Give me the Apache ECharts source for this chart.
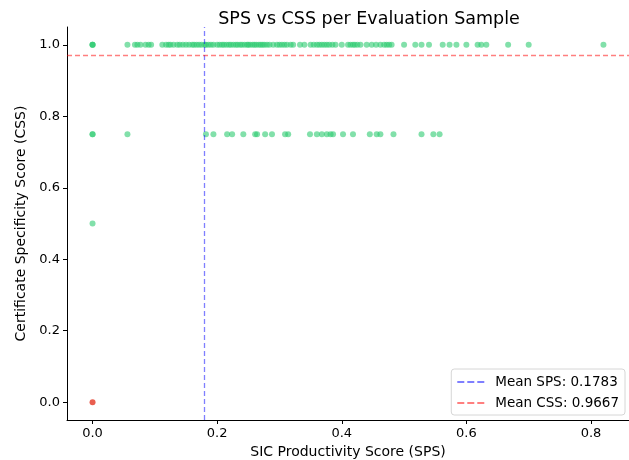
<!DOCTYPE html>
<html>
<head>
    <meta charset="UTF-8">
    <title>SPS vs CSS</title>
    <style type="text/css">
        *{ margin: 0; padding: 0; }
        #main{ width: 629px; height: 460px; background: #fff; }
    </style>
    <script src="https://cdn.jsdelivr.net/npm/echarts@6/dist/echarts.min.js"></script>
</head>
<body>
<div id="main"></div>
<script type="text/javascript">
    // SPS values of samples whose CSS is 1.0
    var spsAtCss100 = [0, 0, 0, 0.056, 0.068, 0.072, 0.077, 0.085, 0.09, 0.094, 0.112, 0.118, 0.122, 0.125,
        0.13, 0.136, 0.14, 0.145, 0.15, 0.155, 0.16, 0.163, 0.167, 0.171, 0.175, 0.18, 0.182, 0.186, 0.19,
        0.194, 0.2, 0.204, 0.208, 0.211, 0.215, 0.219, 0.222, 0.226, 0.23, 0.233, 0.237, 0.24, 0.244, 0.248,
        0.25, 0.253, 0.257, 0.26, 0.263, 0.267, 0.27, 0.273, 0.276, 0.28, 0.284, 0.29, 0.296, 0.3, 0.304,
        0.308, 0.312, 0.318, 0.322, 0.333, 0.34, 0.35, 0.355, 0.36, 0.364, 0.368, 0.372, 0.376, 0.38, 0.385,
        0.39, 0.4, 0.41, 0.414, 0.418, 0.421, 0.425, 0.43, 0.44, 0.448, 0.455, 0.462, 0.468, 0.472, 0.476,
        0.48, 0.5, 0.518, 0.528, 0.54, 0.562, 0.573, 0.584, 0.6, 0.618, 0.624, 0.632, 0.667, 0.7, 0.82];
    // SPS values of samples whose CSS is 0.75
    var spsAtCss075 = [0, 0, 0.056, 0.182, 0.194, 0.216, 0.224, 0.242, 0.261, 0.264, 0.277, 0.288, 0.309,
        0.314, 0.349, 0.36, 0.368, 0.376, 0.382, 0.386, 0.402, 0.418, 0.445, 0.456, 0.462, 0.483, 0.528,
        0.547, 0.557];
    // SPS values of samples whose CSS is 0.5
    var spsAtCss050 = [0];
    // samples with both scores zero
    var zeroSps = [0];
    var zeroCss = [0];

    var meanSps = 0.1783;
    var meanCss = 0.9667;

    var xTicks = [0, 0.2, 0.4, 0.6, 0.8];
    var yTicks = [0, 0.2, 0.4, 0.6, 0.8, 1.0];

    var greenPts = [];
    spsAtCss100.forEach(function (x) { greenPts.push([x, 1.0]); });
    spsAtCss075.forEach(function (x) { greenPts.push([x, 0.75]); });
    spsAtCss050.forEach(function (x) { greenPts.push([x, 0.5]); });
    var redPts = zeroSps.map(function (x, i) { return [x, zeroCss[i]]; });

    var font = 'DejaVu Sans';
    // three short dashes for the legend keys
    var dashIcon = 'path://M0,0h7v2h-7zM10,0h7v2h-7zM20,0h7v2h-7z';
    var myChart = echarts.init(document.getElementById('main'));

    var option = {
        animation: false,
        textStyle: { fontFamily: font },
        title: {
            text: 'SPS vs CSS per Evaluation Sample',
            left: 364, top: 5, textAlign: 'center',
            textStyle: { fontFamily: font, fontSize: 17.5, fontWeight: 'normal', color: '#000' }
        },
        legend: {
            right: 4, bottom: 45, orient: 'vertical',
            data: [
                { name: 'Mean SPS: ' + meanSps.toFixed(4), icon: dashIcon },
                { name: 'Mean CSS: ' + meanCss.toFixed(4), icon: dashIcon }
            ],
            itemWidth: 27, itemHeight: 2, itemGap: 7,
            padding: [6, 6, 5, 6],
            borderColor: '#d6d6d6', borderWidth: 1, borderRadius: 3,
            backgroundColor: '#fff',
            textStyle: { fontFamily: font, fontSize: 13.5, color: '#000', padding: [0, 0, 0, 6] }
        },
        grid: { left: 67, right: 0, top: 27, bottom: 40, outerBoundsMode: 'none' },
        xAxis: {
            type: 'value', min: -0.041, max: 0.861,
            name: 'SIC Productivity Score (SPS)', nameLocation: 'middle', nameGap: 24,
            nameTextStyle: { fontFamily: font, fontSize: 14, color: '#000' },
            axisLine: { onZero: false, lineStyle: { color: '#000', width: 1 } },
            axisTick: { show: true, length: 4, customValues: xTicks, lineStyle: { color: '#000' } },
            axisLabel: {
                customValues: xTicks, color: '#000', fontSize: 13, margin: 7,
                formatter: function (v) { return v.toFixed(1); }
            },
            splitLine: { show: false }
        },
        yAxis: {
            type: 'value', min: -0.05, max: 1.05,
            name: 'Certificate Specificity Score (CSS)', nameLocation: 'middle', nameGap: 32,
            nameTextStyle: { fontFamily: font, fontSize: 14, color: '#000' },
            axisLine: { onZero: false, lineStyle: { color: '#000', width: 1 } },
            axisTick: { show: true, length: 4, customValues: yTicks, lineStyle: { color: '#000' } },
            axisLabel: {
                customValues: yTicks, color: '#000', fontSize: 13, margin: 7,
                formatter: function (v) { return v.toFixed(1); }
            },
            splitLine: { show: false }
        },
        series: [
            {
                name: 'samples', type: 'scatter', symbolSize: 6,
                itemStyle: { color: '#2ecc71', opacity: 0.6 },
                data: greenPts
            },
            {
                name: 'zero', type: 'scatter', symbolSize: 6,
                itemStyle: { color: '#e74c3c', opacity: 0.9 },
                data: redPts
            },
            {
                name: 'Mean SPS: ' + meanSps.toFixed(4), type: 'line', data: [], symbol: 'none',
                itemStyle: { color: 'rgba(0,0,255,0.5)' },
                lineStyle: { color: 'rgba(0,0,255,0.5)', type: [5, 3], width: 1.3 },
                markLine: {
                    silent: true, symbol: 'none', label: { show: false },
                    lineStyle: { color: 'rgba(0,0,255,0.5)', type: [5, 3], width: 1.3 },
                    data: [{ xAxis: meanSps }]
                }
            },
            {
                name: 'Mean CSS: ' + meanCss.toFixed(4), type: 'line', data: [], symbol: 'none',
                itemStyle: { color: 'rgba(255,0,0,0.5)' },
                lineStyle: { color: 'rgba(255,0,0,0.5)', type: [5, 3], width: 1.3 },
                markLine: {
                    silent: true, symbol: 'none', label: { show: false },
                    lineStyle: { color: 'rgba(255,0,0,0.5)', type: [5, 3], width: 1.3 },
                    data: [{ yAxis: meanCss }]
                }
            }
        ]
    };
    myChart.setOption(option);
</script>
</body>
</html>
